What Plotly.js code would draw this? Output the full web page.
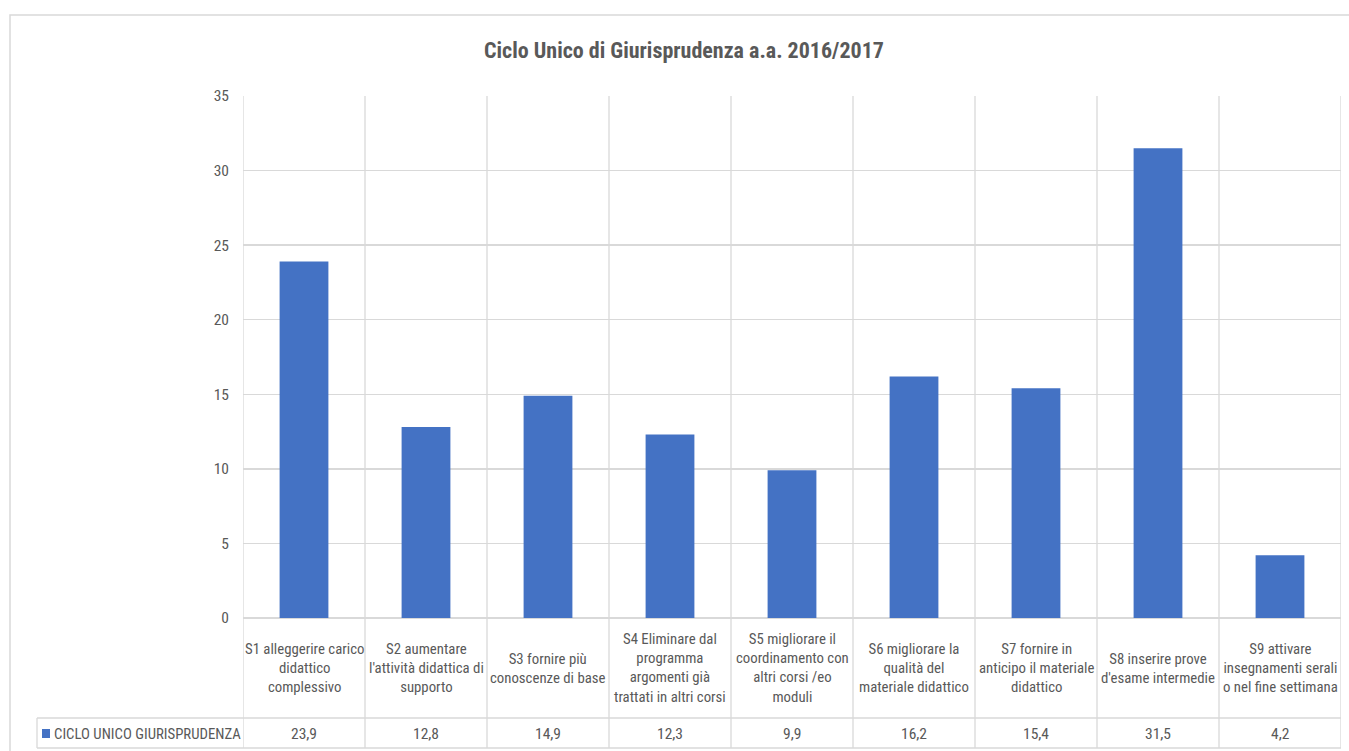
<!DOCTYPE html>
<html>
<head>
<meta charset="utf-8">
<script src="https://cdn.plot.ly/plotly-3.0.1.min.js"></script>
<style>html,body{margin:0;padding:0;background:#fff;}#chart{width:1349px;height:751px;}</style>
</head>
<body>
<div id="chart"></div>
<script>
var categories = [
  "S1 alleggerire carico<br>didattico<br>complessivo",
  "S2 aumentare<br>l'attività didattica di<br>supporto",
  "S3 fornire più<br>conoscenze di base",
  "S4 Eliminare dal<br>programma<br>argomenti già<br>trattati in altri corsi",
  "S5 migliorare il<br>coordinamento con<br>altri corsi /eo<br>moduli",
  "S6 migliorare la<br>qualità del<br>materiale didattico",
  "S7 fornire in<br>anticipo il materiale<br>didattico",
  "S8 inserire prove<br>d'esame intermedie",
  "S9 attivare<br>insegnamenti serali<br>o nel fine settimana"
];
var seriesName = "CICLO UNICO GIURISPRUDENZA";
var values = [23.9, 12.8, 14.9, 12.3, 9.9, 16.2, 15.4, 31.5, 4.2];
var titleText = "Ciclo Unico di Giurisprudenza a.a. 2016/2017";

var FONT = "Liberation Sans Narrow, Arial Narrow, Roboto Condensed, sans-serif";
var GRID = "#d9d9d9";
var TXT = "#595959";
var BAR = "#4472C4";

var W = 1349, H = 751;
var L = 243, R = 8, T = 96, B = 133;
var pw = W - L - R, ph = H - T - B;
function px2x(px){ return (px - L) / pw; }
function py2y(py){ return (H - B - py) / ph; }

var xIdx = categories.map(function(_, i){ return i; });

var shapes = [];
var annotations = [];
var yTableBottom = py2y(748);
var yValTop = py2y(718);
// vertical grid lines at category boundaries
for (var i = 0; i <= categories.length; i++) {
  shapes.push({type:'line', xref:'x', yref:'paper', x0:i-0.5, x1:i-0.5, y0:yTableBottom, y1:1, line:{color:GRID, width:1.3}, layer:'below'});
}
// table horizontal lines
shapes.push({type:'line', xref:'paper', yref:'paper', x0:px2x(37), x1:1, y0:yValTop, y1:yValTop, line:{color:GRID, width:1.3}});
shapes.push({type:'line', xref:'paper', yref:'paper', x0:px2x(37), x1:1, y0:yTableBottom, y1:yTableBottom, line:{color:GRID, width:1.3}});
shapes.push({type:'line', xref:'paper', yref:'paper', x0:px2x(37), x1:px2x(37), y0:yTableBottom, y1:yValTop, line:{color:GRID, width:1.3}});
// outer chart border
shapes.push({type:'rect', xref:'paper', yref:'paper', x0:px2x(10), x1:px2x(1360), y0:py2y(770), y1:py2y(15), line:{color:GRID, width:1.5}, fillcolor:'rgba(0,0,0,0)'});
// legend key square
shapes.push({type:'rect', xref:'paper', yref:'paper', x0:px2x(42), x1:px2x(50), y0:py2y(738), y1:py2y(729), line:{width:0}, fillcolor:BAR});

// category labels and table values
categories.forEach(function(c, i){
  annotations.push({xref:'x', yref:'paper', x:i, y:py2y(668), text:c, showarrow:false, xanchor:'center', yanchor:'middle', align:'center', font:{family:FONT, size:14.8, color:TXT}});
  annotations.push({xref:'x', yref:'paper', x:i, y:py2y(734), text:values[i].toFixed(1).replace('.', ','), showarrow:false, xanchor:'center', yanchor:'middle', font:{family:FONT, size:15.5, color:TXT}});
});
// legend cell
annotations.push({xref:'paper', yref:'paper', x:px2x(52), y:py2y(734), xanchor:'left', yanchor:'middle', showarrow:false,
  text:seriesName, font:{family:FONT, size:14.8, color:TXT}});

var data = [{
  type:'bar', x:xIdx, y:values, name:seriesName, width:0.4,
  marker:{color:BAR}, hoverinfo:'y'
}];

var layout = {
  width:W, height:H,
  margin:{l:L, r:R, t:T, b:B, pad:0},
  paper_bgcolor:'#ffffff', plot_bgcolor:'#ffffff',
  showlegend:false,
  title:{text:'<b>' + titleText + '</b>', x:0.507, xanchor:'center', y:1-50/H, yanchor:'middle', font:{family:FONT, size:22, color:TXT}},
  xaxis:{range:[-0.5, categories.length-0.5], showticklabels:false, showgrid:false, zeroline:false, showline:false, ticks:'', fixedrange:true},
  yaxis:{range:[0,35], dtick:5, tick0:0, showgrid:true, gridcolor:GRID, gridwidth:1.3, zeroline:true, zerolinecolor:GRID, zerolinewidth:1.3, showline:false, ticks:'', ticklabelstandoff:13,
    tickfont:{family:FONT, size:15.5, color:TXT}},
  shapes:shapes,
  annotations:annotations,
  font:{family:FONT}
};
Plotly.newPlot('chart', data, layout, {staticPlot:true});
</script>
</body>
</html>
